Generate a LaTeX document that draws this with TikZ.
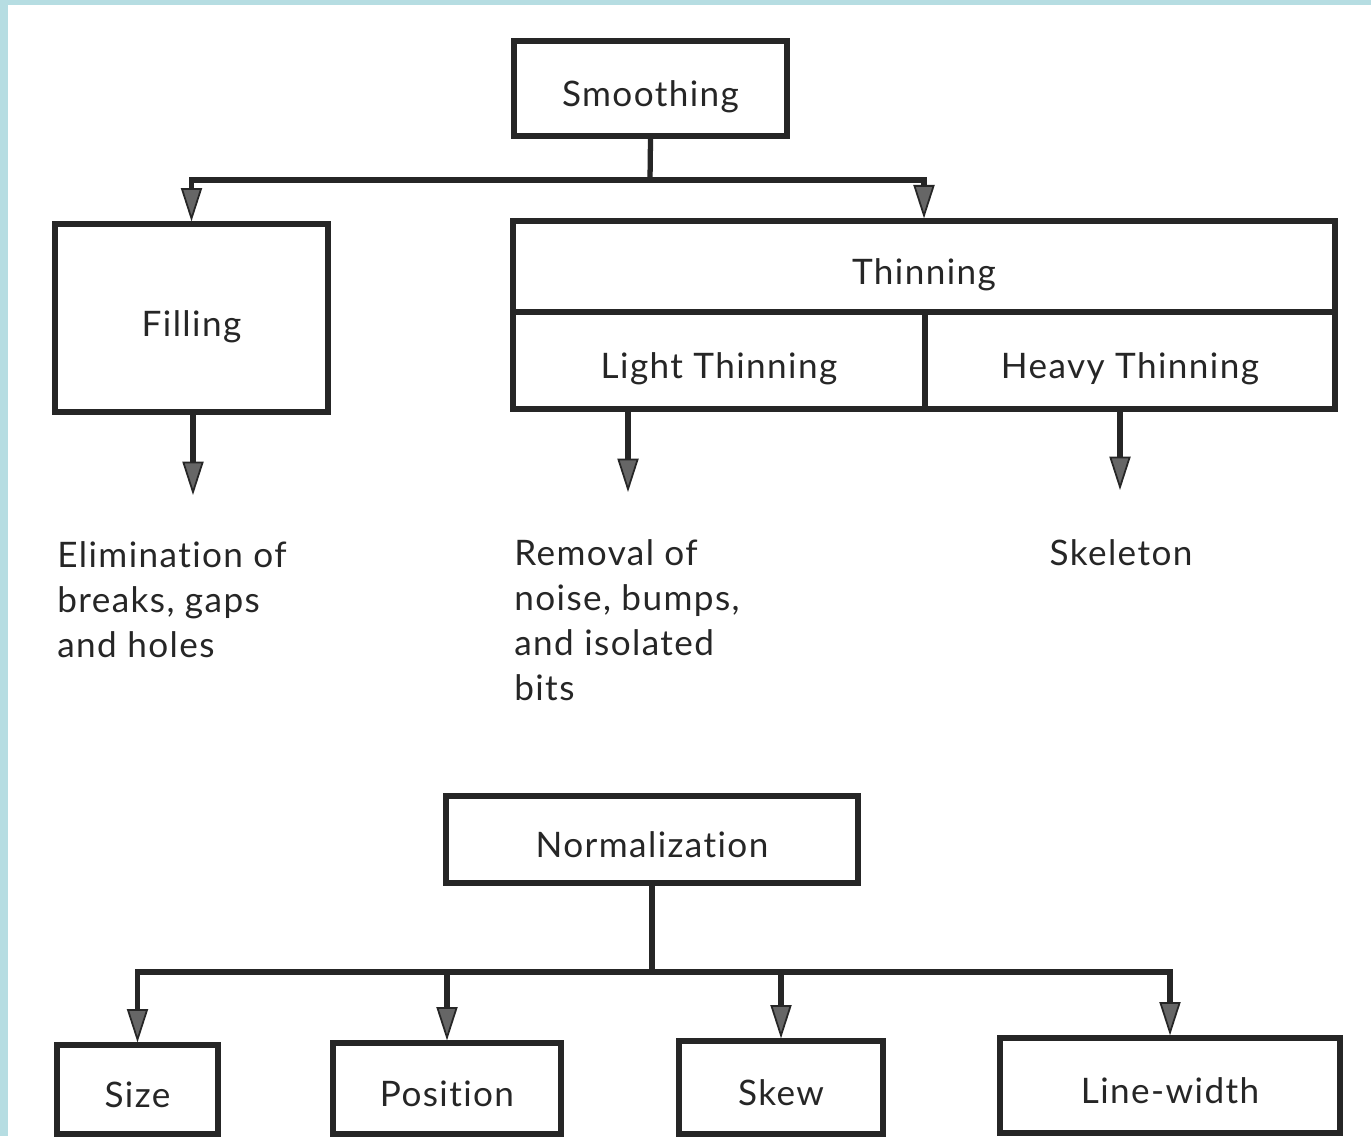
\documentclass[tikz,border=0pt]{standalone}
\usepackage{fontspec}
\setmainfont{Lato}[LetterSpace=4, Ligatures=NoCommon]
\usetikzlibrary{arrows.meta}
\definecolor{scanblue}{RGB}{182,221,226}

\begin{document}
\begin{tikzpicture}[x=0.02cm,y=-0.02cm,
	box/.style={draw=black!85, line width=3pt, inner sep=0pt, text height=0.72cm, text depth=0pt},
	link/.style={draw=black!85, line width=3pt},
	arr/.style={link, -{Triangle[width=12pt,length=19pt,line width=1pt,fill=black!60]}},
	txt/.style={inner sep=0pt, align=left, anchor=north west},
	font=\fontsize{20pt}{25.6pt}\selectfont, text=black!85]
	\fill[scanblue] (0,0) rectangle (1371,1136);
	\fill[white] (8,5) rectangle (1371,1136);
	\useasboundingbox (0,0) rectangle (1371,1136);

	\node (smooth) at (650.5,88.5) [box, minimum width=5.46cm, minimum height=1.9cm] {Smoothing};
	\node (filling) at (191.5,318) [box, minimum width=5.46cm, minimum height=3.76cm] {Filling};
	\node (thin) at (924,266.5) [box, minimum width=16.44cm, minimum height=1.82cm] {Thinning};
	\node (light) at (719,360.5) [box, minimum width=8.24cm, minimum height=1.94cm] {Light Thinning};
	\node (heavy) at (1130,360.5) [box, minimum width=8.2cm, minimum height=1.94cm] {Heavy Thinning};

	\coordinate (sfork) at (650,180);
	\draw[link] (smooth.south) -- (sfork);
	\draw[arr] (sfork) -| (filling.north);
	\draw[arr] (sfork) -| (thin.north);

	\node (elim) at (57,541) [txt] {Elimination of\\breaks, gaps\\and holes};
	\node (removal) at (514,539) [txt] {Removal of\\noise, bumps,\\and isolated\\bits};
	\node (skel) at (1121,539) [txt, anchor=north] {Skeleton};
	\coordinate (elimtip) at (193,495);
	\coordinate (removaltip) at (628,492);
	\coordinate (skeltip) at (1120,490);
	\draw[arr] (filling.south -| elimtip) -- (elimtip);
	\draw[arr] (light.south -| removaltip) -- (removaltip);
	\draw[arr] (heavy.south -| skeltip) -- (skeltip);

	\node (norm) at (652,839.5) [box, minimum width=8.24cm, minimum height=1.74cm] {Normalization};
	\coordinate (nfork) at (652,972);
	\draw[link] (norm.south) -- (nfork);
	\foreach \name/\x/\y/\w/\h/\txt in {size/137.5/1089.5/3.22/1.78/Size, pos/447/1088.5/4.56/1.82/Position, skew/781/1087.5/4.08/1.86/Skew, lw/1170/1085.5/6.8/1.9/Line-width} {
		\node (\name) at (\x,\y) [box, minimum width=\w cm, minimum height=\h cm] {\txt};
		\draw[arr] (nfork) -| (\name.north);
	}
\end{tikzpicture}
\end{document}
